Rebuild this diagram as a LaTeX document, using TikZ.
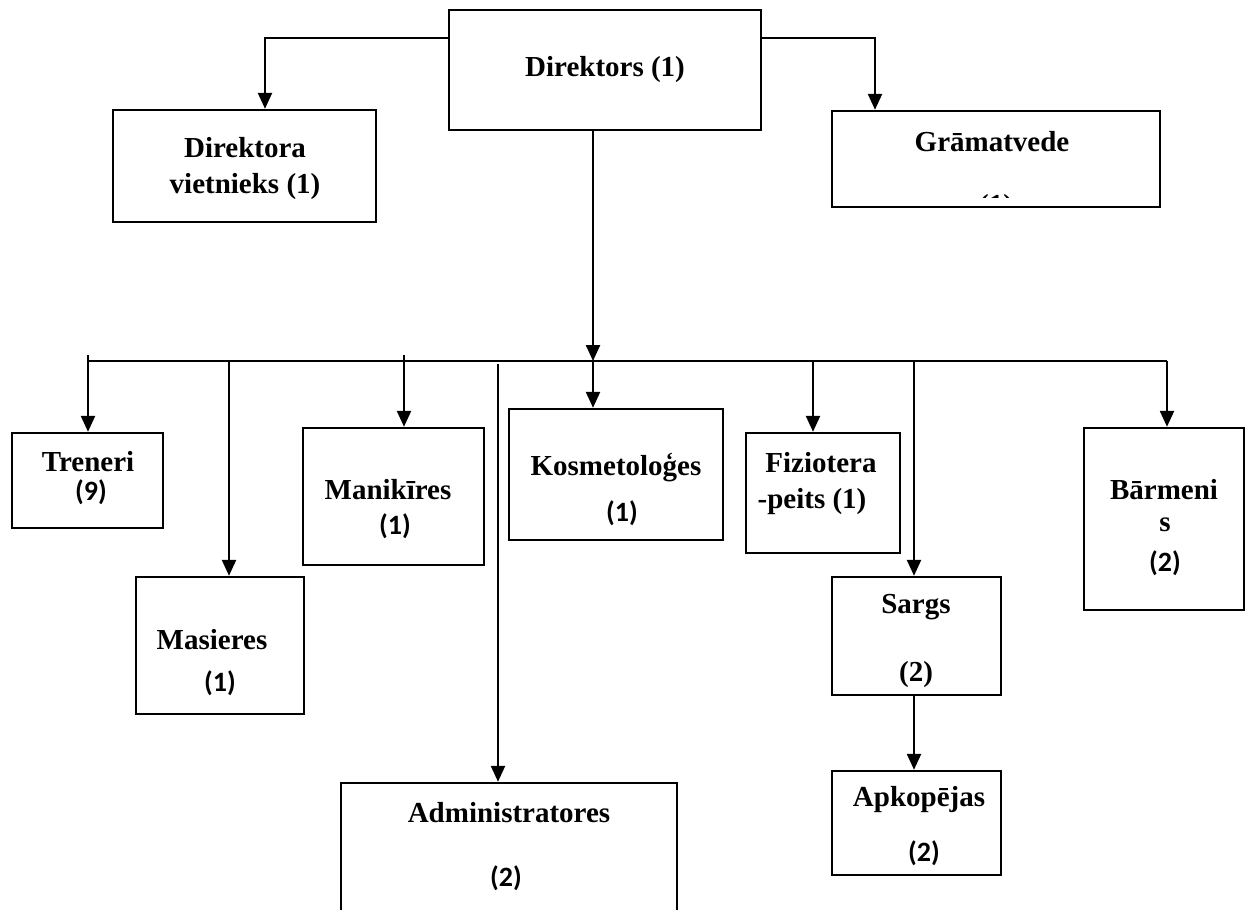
\documentclass[tikz,border=0pt]{standalone}
\usepackage{fontspec}
\setmainfont{Liberation Serif}
\newfontfamily\calfont{Carlito}
\usetikzlibrary{arrows.meta,fit}
\tikzset{
  x=0.5pt, y=-0.5pt,
  box/.style={draw, line width=1.2pt, inner sep=0pt},
  lbl/.style={font=\bfseries\fontsize{14.5}{17}\selectfont, inner sep=0pt},
  num/.style={font=\calfont\bfseries\fontsize{14}{17}\selectfont, inner sep=0pt},
  con/.style={line width=1.2pt},
  arr/.style={line width=1.2pt, -{Triangle[length=8pt,width=7pt]}}
}
\begin{document}
\begin{tikzpicture}
\clip (0,0) rectangle (1245,909);
\fill[white] (0,0) rectangle (1245,909);
% boxes
\node[box, fit={(449,10)(761,130)}] (D) {};
\node[box, fit={(113,110)(376,222)}] (DV) {};
\node[box, fit={(832,111)(1160,207)}] (G) {};
\node[box, fit={(12,433)(163,528)}] (T) {};
\node[box, fit={(136,577)(304,714)}] (M) {};
\node[box, fit={(303,428)(484,565)}] (MK) {};
\node[box, fit={(341,783)(677,930)}] (A) {};
\node[box, fit={(509,409)(723,540)}] (K) {};
\node[box, fit={(746,433)(900,553)}] (F) {};
\node[box, fit={(832,577)(1001,695)}] (S) {};
\node[box, fit={(832,771)(1001,875)}] (AP) {};
\node[box, fit={(1084,428)(1244,610)}] (B) {};
% labels
\node[lbl] (Dt) at (605,70) {Direktors (1)};
\node[lbl] (DVt1) at (245,148) {Direktora};
\node[lbl] (DVt2) at (245,187) {vietnieks (1)};
\node[lbl] (Gt) at (992,142) {Grāmatvede};
\begin{scope}
  \clip (832,111) rectangle (1160,198);
  \node[lbl, anchor=base] (Gn) at (996,214) {(1)};
\end{scope}
\node[lbl] (Tt) at (88,462) {Treneri};
\node[num] (Tn) at (91,492) {(9)};
\node[lbl] (Mt) at (212,640) {Masieres};
\node[num] (Mn) at (220,683) {(1)};
\node[lbl] (MKt) at (388,490) {Manikīres};
\node[num] (MKn) at (395,526) {(1)};
\node[lbl] (At) at (509,813) {Administratores};
\node[num] (An) at (506,878) {(2)};
\node[lbl] (Kt) at (616,468) {Kosmetoloģes};
\node[num] (Kn) at (622,513) {(1)};
\node[lbl] (Ft1) at (821,463) {Fiziotera};
\node[lbl] (Ft2) at (812,502) {-peits (1)};
\node[lbl] (St) at (916,607) {Sargs};
\node[lbl] (Sn) at (916,675) {(2)};
\node[lbl] (APt) at (919,800) {Apkopējas};
\node[num] (APn) at (924,853) {(2)};
\node[lbl] (Bt1) at (1164,490) {Bārmeni};
\node[lbl] (Bt2) at (1165,525) {s};
\node[num] (Bn) at (1165,563) {(2)};
% coordinates
\coordinate (dl) at (265,38);
\coordinate (dr) at (875,38);
\coordinate (hub) at (593,361);
\coordinate (bl) at (88,361);
\coordinate (br) at (1167,361);
\coordinate (tT) at (88,355);
\coordinate (tMK) at (404,355);
\coordinate (tM) at (229,361);
\coordinate (tA) at (498,364);
\coordinate (tF) at (813,361);
\coordinate (tS) at (914,361);
% connectors
\draw[arr] (D.west |- dl) -| (dl |- DV.north);
\draw[arr] (D.east |- dr) -| (dr |- G.north);
\draw[arr] (D.south -| hub) -- (hub);
\draw[con] (bl) -- (br);
\draw[arr] (tT) -- (tT |- T.north);
\draw[arr] (tM) -- (tM |- M.north);
\draw[arr] (tMK) -- (tMK |- MK.north);
\draw[arr] (tA) -- (tA |- A.north);
\draw[arr] (hub) -- (hub |- K.north);
\draw[arr] (tF) -- (tF |- F.north);
\draw[arr] (tS) -- (tS |- S.north);
\draw[arr] (br) -- (br |- B.north);
\draw[arr] (S.south -| tS) -- (tS |- AP.north);
\end{tikzpicture}
\end{document}
